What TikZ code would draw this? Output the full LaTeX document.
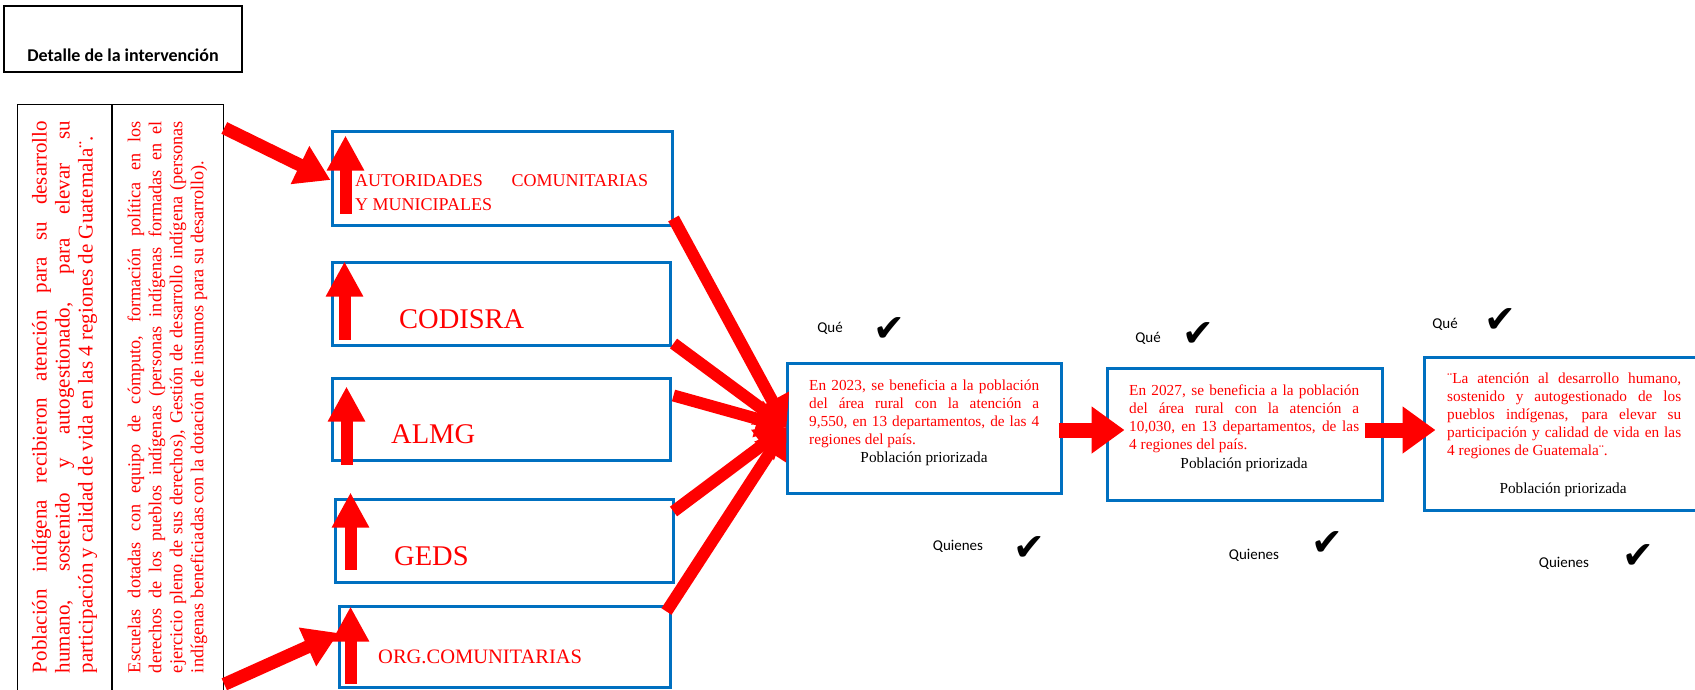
\documentclass[tikz,border=0pt]{standalone}
\usepackage{fontspec}
\setmainfont{Liberation Serif}
\newfontfamily\calibri{Carlito}
\newfontfamily\dejavu{DejaVu Sans}
\usetikzlibrary{arrows.meta}
\definecolor{boxblue}{RGB}{0,112,192}

\begin{document}
\begin{tikzpicture}[x=1pt, y=-1pt,
    bluebox/.style={draw=boxblue, line width=3pt, inner sep=0pt},
    leftcol/.style={rotate=90, text width=552pt, align=justify, text=red, inner sep=0pt},
    txt/.style={inner sep=0pt, text=red, anchor=base west},
    res/.style={inner sep=0pt, text=red, anchor=base west, align=justify, font=\fontsize{15.3}{18}\selectfont},
    prio/.style={inner sep=0pt, anchor=base, font=\fontsize{15.3}{18}\selectfont},
    small/.style={inner sep=0pt, font=\calibri\fontsize{15}{17}\selectfont},
    tick/.style={inner sep=0pt, font=\dejavu\fontsize{38}{38}\selectfont},
    bigarr/.style={draw=red, line width=13pt, -{Triangle[length=34pt,width=40pt]}},
    conv/.style={draw=red, line width=12pt, -{Triangle[length=30pt,width=36pt]}},
    uparr/.style={draw=red, line width=12pt, -{Triangle[length=35pt,width=35pt]}},
    sidearr/.style={draw=red, line width=15pt, -{Triangle[length=33pt,width=45pt]}}]
    \useasboundingbox (0,0) rectangle (1695,689);

    % titulo
    \node[draw, line width=1.3pt, minimum width=238pt, minimum height=66pt, inner sep=0pt] (D) at (123,39) {};
    \node[inner sep=0pt, anchor=base, font=\calibri\bfseries\fontsize{18}{20}\selectfont] (Dt) at (123,61) {Detalle de la intervención};

    % columnas de la izquierda
    \node[draw, line width=1.3pt, minimum width=206pt, minimum height=600pt, inner sep=0pt, anchor=north west] (L) at (17,104) {};
    \draw[line width=1.3pt] ([xshift=95pt]L.north west) -- ([xshift=95pt]L.south west);
    \node[leftcol, font=\fontsize{21}{23}\selectfont] (L1) at (64.5,397)
        {Población indígena recibieron atención para su desarrollo\linebreak humano, sostenido y autogestionado, para elevar su\linebreak participación y calidad de vida en las 4 regiones de Guatemala¨.};
    \node[leftcol, font=\fontsize{18.2}{21}\selectfont] (L2) at (167.5,397)
        {Escuelas dotadas con equipo de cómputo, formación política en los\linebreak derechos de los pueblos indígenas (personas indígenas formadas en el\linebreak ejercicio pleno de sus derechos), Gestión de desarrollo indígena (personas\linebreak indígenas beneficiadas con la dotación de insumos para su desarrollo).};

    % instituciones
    \foreach \i/\cx/\cy/\w/\h in {1/502/178/340/94, 2/501/303.5/338/83, 3/501/419/338/82, 4/504/540.5/338/83, 5/504.5/646.5/331/81} {
        \node[bluebox, minimum width=\w pt, minimum height=\h pt] (B\i) at (\cx,\cy) {};
    }
    \node[txt, text width=293pt, align=justify, font=\fontsize{18}{24}\selectfont] (T1) at (355,186) {AUTORIDADES COMUNITARIAS\linebreak Y MUNICIPALES};
    \node[txt, font=\fontsize{28.5}{30}\selectfont] (T2) at (399,328) {CODISRA};
    \node[txt, font=\fontsize{28.5}{30}\selectfont] (T3) at (391,443) {ALMG};
    \node[txt, font=\fontsize{28.5}{30}\selectfont] (T4) at (394,565) {GEDS};
    \node[txt, font=\fontsize{20.5}{22}\selectfont] (T5) at (378,663) {ORG.COMUNITARIAS};

    \foreach \i/\dx/\ya/\yb in {1/15/13/-6, 2/14/7/-1, 3/16/-3/-10, 4/17/14/5, 5/13/5/-2} {
        \draw[uparr] ([shift={(\dx pt,\ya pt)}]B\i.south west) -- ([shift={(\dx pt,\yb pt)}]B\i.north west);
    }

    % resultados
    \node[bluebox, minimum width=274pt, minimum height=130pt] (R1) at (924,428) {};
    \node[bluebox, minimum width=275pt, minimum height=132pt] (R2) at (1244.5,434) {};
    \node[bluebox, minimum width=278pt, minimum height=153pt] (R3) at (1563,433.5) {};

    \node[res, text width=230pt] (E1) at (809,390) {En 2023, se beneficia a la población\linebreak del área rural con la atención a\linebreak 9,550, en 13 departamentos, de las 4\linebreak regiones del país.};
    \node[res, text width=230pt] (E2) at (1129,395) {En 2027, se beneficia a la población\linebreak del área rural con la atención a\linebreak 10,030, en 13 departamentos, de las\linebreak 4 regiones del país.};
    \node[res, text width=234pt] (E3) at (1447,383) {¨La atención al desarrollo humano,\linebreak sostenido y autogestionado de los\linebreak pueblos indígenas, para elevar su\linebreak participación y calidad de vida en las\linebreak 4 regiones de Guatemala¨.};
    \node[prio] (P1) at (924,462) {Población priorizada};
    \node[prio] (P2) at (1244,468) {Población priorizada};
    \node[prio] (P3) at (1563,493) {Población priorizada};

    \foreach \i/\w/\x/\y/\cx/\cy in {1/Qué/830/328/889/330, 2/Qué/1148/338/1198/335, 3/Qué/1445/324/1500/321,
        4/Quienes/958/546/1029/549, 5/Quienes/1254/555/1327/544, 6/Quienes/1564/563/1638/557} {
        \node[small] (Q\i) at (\x,\y) {\w};
        \node[tick] (C\i) at (\cx,\cy) {✔};
    }

    % flechas
    \draw[bigarr] ([yshift=-24pt]L.north east) -- ([yshift=-2pt]B1.west);
    \draw[bigarr] ([yshift=21pt]L.south east) -- ([shift={(1pt,13.5pt)}]B5.west);
    \foreach \i/\a/\sx/\sy in {1/south east/0/8, 2/south east/2/3, 3/north east/2/-19, 4/north east/-1/-14, 5/north east/-5/-7} {
        \draw[conv] ([shift={(\sx pt,\sy pt)}]B\i.\a) -- ([shift={(1pt,1pt)}]R1.west);
    }
    \draw[sidearr] ([shift={(-4pt,-2pt)}]R1.east) -- ([shift={(19pt,4pt)}]R2.west);
    \draw[sidearr] ([shift={(-19pt,4pt)}]R2.east) -- ([shift={(13pt,3.5pt)}]R3.west);
\end{tikzpicture}
\end{document}
